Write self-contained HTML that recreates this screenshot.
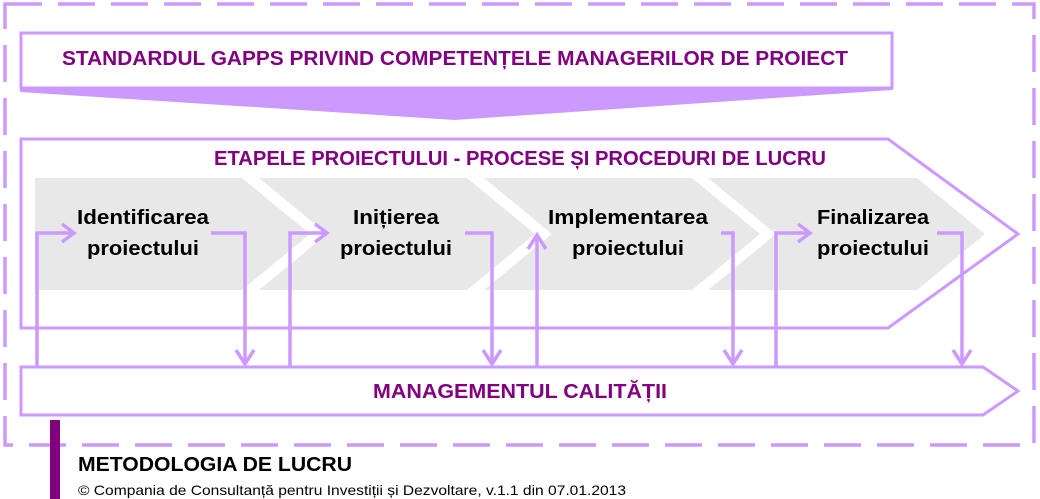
<!DOCTYPE html>
<html><head><meta charset="utf-8"><style>html,body{margin:0;padding:0;background:#fff}svg{display:block}</style></head>
<body>
<svg width="1040" height="499" viewBox="0 0 1040 499" xmlns="http://www.w3.org/2000/svg" font-family="Liberation Sans, sans-serif">
<rect x="5" y="4" width="1029" height="441" fill="none" stroke="#cc99ff" stroke-width="3.5" stroke-dasharray="37,16"/>
<rect x="21" y="33" width="871" height="55" fill="#fff" stroke="#cc99ff" stroke-width="3"/>
<polygon points="20,88 892,88 892,90 455,120 20,92" fill="#cc99ff"/>
<text x="455" y="65" text-anchor="middle" font-weight="bold" font-size="20" fill="#800080" textLength="786" lengthAdjust="spacingAndGlyphs">STANDARDUL GAPPS PRIVIND COMPETENȚELE MANAGERILOR DE PROIECT</text>
<polygon points="21,139 888,139 1018,234 888,328 21,328" fill="#fff" stroke="#cc99ff" stroke-width="3"/>
<text x="520" y="165" text-anchor="middle" font-weight="bold" font-size="20" fill="#800080" textLength="612" lengthAdjust="spacingAndGlyphs">ETAPELE PROIECTULUI - PROCESE ȘI PROCEDURI DE LUCRU</text>
<g fill="#e8e8e8">
<polygon points="35,178 242,178 310,234 242,290 35,290"/>
<polygon points="259,178 467,178 535,234 467,290 259,290 327,234"/>
<polygon points="484,178 692,178 760,234 692,290 484,290 552,234"/>
<polygon points="708,178 917,178 985,234 917,290 708,290 776,234"/>
</g>
<polygon points="21,367 983,367 1018,391 983,415 21,415" fill="#fff" stroke="#cc99ff" stroke-width="3"/>
<text x="520" y="398" text-anchor="middle" font-weight="bold" font-size="20" fill="#800080" textLength="294" lengthAdjust="spacingAndGlyphs">MANAGEMENTUL CALITĂȚII</text>
<g font-weight="bold" font-size="20" fill="#000" text-anchor="middle">
<text x="143" y="224" textLength="132" lengthAdjust="spacingAndGlyphs">Identificarea</text>
<text x="143" y="255" textLength="112" lengthAdjust="spacingAndGlyphs">proiectului</text>
<text x="396" y="224" textLength="86" lengthAdjust="spacingAndGlyphs">Inițierea</text>
<text x="396" y="255" textLength="112" lengthAdjust="spacingAndGlyphs">proiectului</text>
<text x="628" y="224" textLength="160" lengthAdjust="spacingAndGlyphs">Implementarea</text>
<text x="628" y="255" textLength="112" lengthAdjust="spacingAndGlyphs">proiectului</text>
<text x="873" y="224" textLength="112" lengthAdjust="spacingAndGlyphs">Finalizarea</text>
<text x="873" y="255" textLength="112" lengthAdjust="spacingAndGlyphs">proiectului</text>
</g>
<g fill="none" stroke="#cc99ff" stroke-width="3.5">
<polyline points="37,367 37,233 74,233"/><polyline points="62,224 74,233 62,242"/>
<polyline points="211,233 245,233 245,364"/><polyline points="236,350 245,364 254,350"/>
<polyline points="290,367 290,233 327,233"/><polyline points="315,224 327,233 315,242"/>
<polyline points="465,233 492,233 492,364"/><polyline points="483,350 492,364 501,350"/>
<polyline points="537,367 537,235"/><polyline points="528,249 537,235 546,249"/>
<polyline points="721,233 733,233 733,364"/><polyline points="724,350 733,364 742,350"/>
<polyline points="776,367 776,233 810,233"/><polyline points="798,224 810,233 798,242"/>
<polyline points="937,233 962,233 962,364"/><polyline points="953,350 962,364 971,350"/>
</g>
<rect x="50" y="420" width="10" height="79" fill="#800080"/>
<text x="78" y="471" font-weight="bold" font-size="20" fill="#000" textLength="274" lengthAdjust="spacingAndGlyphs">METODOLOGIA DE LUCRU</text>
<text x="78" y="495" font-size="14" fill="#000" textLength="548" lengthAdjust="spacingAndGlyphs">© Compania de Consultanță pentru Investiții și Dezvoltare, v.1.1 din 07.01.2013</text>
</svg>
</body></html>
